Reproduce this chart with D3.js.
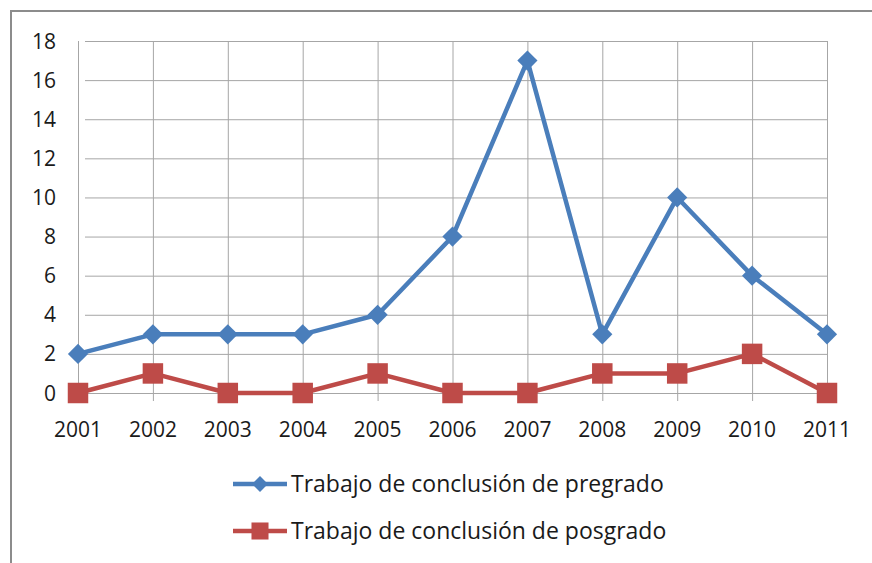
<!DOCTYPE html>
<html>
<head>
<meta charset="utf-8">
<script src="https://cdn.jsdelivr.net/npm/d3@7"></script>
<style>
    body { margin: 0; background: #fff; }
    svg { display: block; }
</style>
</head>
<body>
<div id="chart"></div>
<script>
var years = ["2001", "2002", "2003", "2004", "2005", "2006", "2007", "2008", "2009", "2010", "2011"];
var pregrado = [2, 3, 3, 3, 4, 8, 17, 3, 10, 6, 3];
var posgrado = [0, 1, 0, 0, 1, 0, 0, 1, 1, 2, 0];
var yTicks = [0, 2, 4, 6, 8, 10, 12, 14, 16, 18];
var seriesNames = ["Trabajo de conclusión de pregrado", "Trabajo de conclusión de posgrado"];

let svgWidth = 872;
let svgHeight = 563;
let fontFamily = "'Open Sans', 'Noto Sans', sans-serif";
let tickFontSize = 21;
let legendFontSize = 23;

let blue = "#4a7ebb";
let red = "#be4b48";
let gridColor = "#a6a6a6";

let svg = d3.select("#chart")
    .append("svg")
    .attr("width", svgWidth)
    .attr("height", svgHeight);

// outer frame
svg.append("rect")
    .attr("x", 11)
    .attr("y", 11)
    .attr("width", 880)
    .attr("height", 600)
    .attr("fill", "none")
    .attr("stroke", "#8c8c8c")
    .attr("stroke-width", 2);

let xScale = d3.scalePoint()
    .domain(years)
    .range([78, 827]);

let yScale = d3.scaleLinear()
    .domain([0, 18])
    .range([393, 41]);

// horizontal grid
svg.append("g")
    .attr("transform", "translate(78,0)")
    .call(d3.axisLeft(yScale).tickValues(yTicks).tickSize(-(827 - 78)).tickFormat(""))
    .call(g => g.select(".domain").remove())
    .call(g => g.selectAll("line").attr("stroke", gridColor).attr("x1", 7));

// vertical grid
svg.append("g")
    .attr("transform", "translate(0,41)")
    .call(d3.axisBottom(xScale).tickSize(393 - 41 + 8).tickFormat(""))
    .call(g => g.select(".domain").remove())
    .call(g => g.selectAll("line").attr("stroke", gridColor));

// y labels
svg.append("g")
    .selectAll("text")
    .data(yTicks)
    .enter()
    .append("text")
    .attr("x", 56)
    .attr("y", d => yScale(d) + 7.5)
    .attr("text-anchor", "end")
    .attr("font-family", fontFamily)
    .attr("font-size", tickFontSize + "px")
    .attr("fill", "#1a1a1a")
    .text(d => d);

// x labels
svg.append("g")
    .selectAll("text")
    .data(years)
    .enter()
    .append("text")
    .attr("x", d => xScale(d))
    .attr("y", 437)
    .attr("text-anchor", "middle")
    .attr("font-family", fontFamily)
    .attr("font-size", tickFontSize + "px")
    .attr("fill", "#1a1a1a")
    .text(d => d);

let line = d3.line()
    .x((d, i) => xScale(years[i]))
    .y(d => yScale(d));

let diamond = d3.symbol().type(d3.symbolDiamond2).size(260);
let square = d3.symbol().type(d3.symbolSquare).size(420);

function drawSeries(values, color, sym) {
    svg.append("path")
        .datum(values)
        .attr("d", line)
        .attr("fill", "none")
        .attr("stroke", color)
        .attr("stroke-width", 4.5)
        .attr("stroke-linejoin", "round");

    svg.append("g")
        .selectAll("path")
        .data(values)
        .enter()
        .append("path")
        .attr("transform", (d, i) => "translate(" + xScale(years[i]) + "," + yScale(d) + ")")
        .attr("d", sym)
        .attr("fill", color);
}

drawSeries(pregrado, blue, diamond);
drawSeries(posgrado, red, square);

// legend
let legend = svg.append("g");
let legendItems = [
    { name: seriesNames[0], color: blue, sym: d3.symbol().type(d3.symbolDiamond2).size(160), y: 484 },
    { name: seriesNames[1], color: red, sym: d3.symbol().type(d3.symbolSquare).size(290), y: 531 }
];
legendItems.forEach(item => {
    legend.append("line")
        .attr("x1", 233).attr("x2", 287)
        .attr("y1", item.y).attr("y2", item.y)
        .attr("stroke", item.color)
        .attr("stroke-width", 4.5);
    legend.append("path")
        .attr("transform", "translate(260," + item.y + ")")
        .attr("d", item.sym)
        .attr("fill", item.color);
    legend.append("text")
        .attr("x", 291)
        .attr("y", item.y + 8)
        .attr("font-family", fontFamily)
        .attr("font-size", legendFontSize + "px")
        .attr("fill", "#1a1a1a")
        .text(item.name);
});
</script>
</body>
</html>
